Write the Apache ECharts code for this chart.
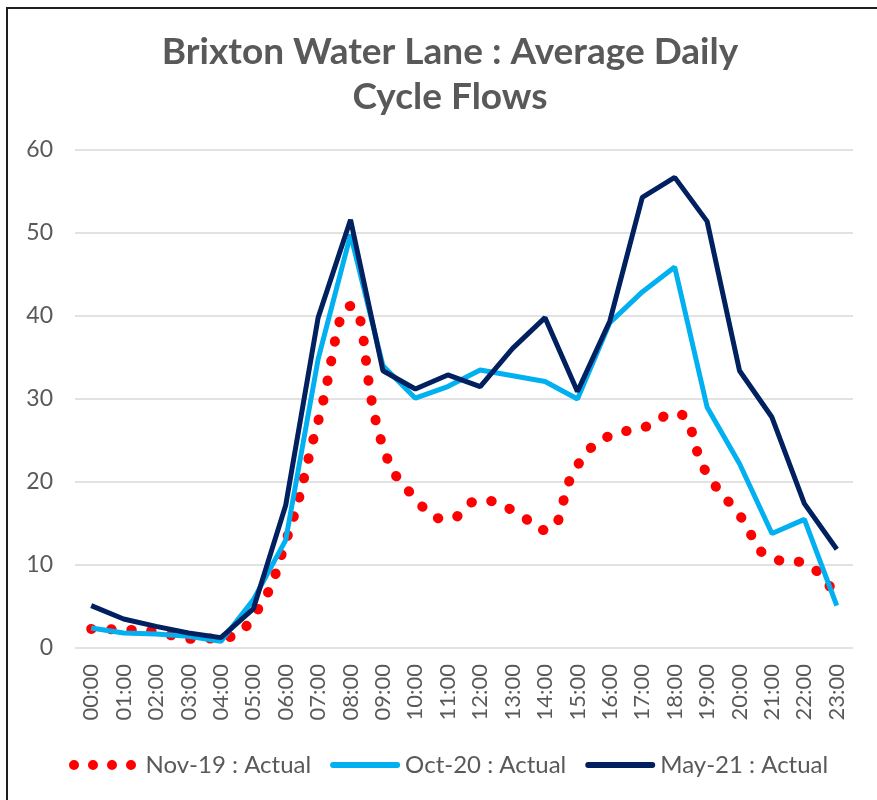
<!DOCTYPE html>
<html>
<head>
<meta charset="utf-8">
<script src="https://cdn.jsdelivr.net/npm/echarts@6/dist/echarts.min.js"></script>
<style>
  html, body { margin: 0; padding: 0; background: #fff; }
  #chart { width: 877px; height: 800px; }
</style>
</head>
<body>
<div id="chart"></div>
<script>
// hours of the day
const hours = ['00:00', '01:00', '02:00', '03:00', '04:00', '05:00', '06:00', '07:00',
  '08:00', '09:00', '10:00', '11:00', '12:00', '13:00', '14:00', '15:00',
  '16:00', '17:00', '18:00', '19:00', '20:00', '21:00', '22:00', '23:00'];

const nov19 = [2.3, 2.2, 2.0, 1.1, 1.2, 3.8, 12.8, 27.3, 41.2, 24.3, 18.0, 15.5,
  17.8, 16.6, 14.2, 22.0, 25.6, 26.5, 28.3, 21.0, 16.0, 10.8, 10.2, 6.0];
const oct20 = [2.4, 1.8, 1.7, 1.4, 0.8, 5.8, 13.0, 34.8, 49.8, 34.0, 30.1, 31.5,
  33.5, 32.8, 32.1, 30.0, 39.2, 42.9, 45.9, 29.0, 22.2, 13.8, 15.5, 5.1];
const may21 = [5.1, 3.5, 2.6, 1.8, 1.25, 4.7, 17.2, 39.8, 51.6, 33.4, 31.2, 32.9,
  31.5, 36.1, 39.8, 30.9, 39.4, 54.3, 56.7, 51.4, 33.4, 27.8, 17.4, 11.9];

const seriesNames = ['Nov-19 : Actual', 'Oct-20 : Actual', 'May-21 : Actual'];
const titleText = 'Brixton Water Lane : Average Daily\nCycle Flows';

const grey = '#595959';
const font = 'Lato, "Open Sans", sans-serif';

// legend icons: four round dots, and a rounded bar for the solid lines
const dotsIcon = 'path://M0,5 A5,5 0 1,1 10,5 A5,5 0 1,1 0,5 Z' +
  ' M19,5 A5,5 0 1,1 29,5 A5,5 0 1,1 19,5 Z' +
  ' M38,5 A5,5 0 1,1 48,5 A5,5 0 1,1 38,5 Z' +
  ' M57,5 A5,5 0 1,1 67,5 A5,5 0 1,1 57,5 Z';
const barIcon = 'path://M3,0 H67 A3,3 0 0,1 67,6 H3 A3,3 0 0,1 3,0 Z';

const chart = echarts.init(document.getElementById('chart'));

const option = {
  backgroundColor: '#fff',
  animation: false,
  title: {
    text: titleText,
    left: 445,
    textAlign: 'center',
    top: 25,
    textStyle: {
      fontFamily: font,
      fontSize: 37,
      fontWeight: 'bold',
      color: grey,
      lineHeight: 45
    }
  },
  graphic: [{
    // chart frame
    type: 'rect',
    silent: true,
    shape: { x: 7, y: 8, width: 900, height: 900 },
    style: { fill: 'none', stroke: '#1e1e1e', lineWidth: 2 }
  }],
  legend: {
    top: 748,
    left: 64,
    itemWidth: 70,
    itemHeight: 10,
    itemGap: 19,
    textStyle: { fontFamily: font, fontSize: 24, color: grey },
    data: [
      { name: seriesNames[0], icon: dotsIcon, textStyle: { padding: [0, 0, 0, 3] } },
      { name: seriesNames[1], icon: barIcon },
      { name: seriesNames[2], icon: barIcon }
    ]
  },
  grid: { left: 75, right: 24, top: 150, bottom: 152 },
  xAxis: {
    type: 'category',
    data: hours,
    boundaryGap: true,
    axisLine: { show: false },
    axisTick: { show: false },
    axisLabel: {
      rotate: 90,
      margin: 16,
      fontFamily: font,
      fontSize: 22,
      color: grey
    }
  },
  yAxis: {
    type: 'value',
    min: 0,
    max: 60,
    interval: 10,
    axisLine: { show: false },
    axisTick: { show: false },
    axisLabel: { margin: 22, fontFamily: font, fontSize: 23, color: grey },
    splitLine: { lineStyle: { color: '#d9d9d9', width: 1.5 } }
  },
  series: [
    {
      name: seriesNames[0],
      type: 'line',
      data: nov19,
      smooth: 0.5,
      symbol: 'none',
      z: 1,
      lineStyle: { color: '#ff0000', width: 10, type: [0.5, 19.5], cap: 'round' },
      itemStyle: { color: '#ff0000' }
    },
    {
      name: seriesNames[1],
      type: 'line',
      data: oct20,
      symbol: 'none',
      z: 2,
      lineStyle: { color: '#00b0f0', width: 5 },
      itemStyle: { color: '#00b0f0' }
    },
    {
      name: seriesNames[2],
      type: 'line',
      data: may21,
      symbol: 'none',
      z: 3,
      lineStyle: { color: '#002060', width: 5 },
      itemStyle: { color: '#002060' }
    }
  ]
};

chart.setOption(option);
</script>
</body>
</html>
